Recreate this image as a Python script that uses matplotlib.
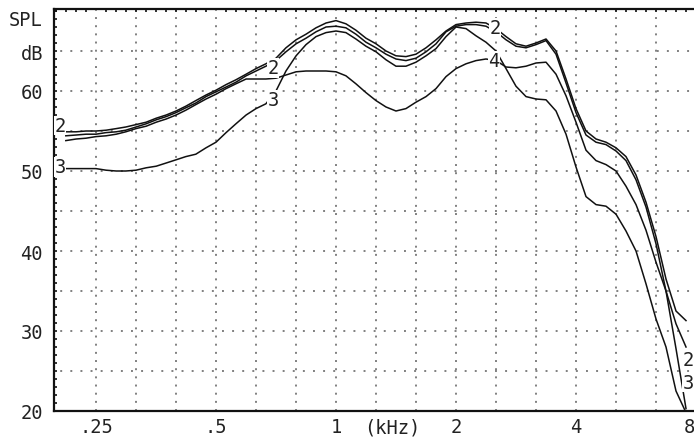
import numpy as np
import matplotlib
matplotlib.use("Agg")
import matplotlib.pyplot as plt

# ---------------- data ----------------
freq_hz = [210, 223, 236, 250, 265, 281, 297, 315, 334, 354, 375, 397, 420, 445, 472,
           500, 530, 561, 595, 630, 667, 707, 749, 794, 841, 891, 944, 1000, 1059, 1122,
           1189, 1260, 1335, 1414, 1498, 1587, 1682, 1782, 1888, 2000, 2119, 2245, 2378,
           2520, 2670, 2828, 2997, 3175, 3364, 3564, 3776, 4000, 4238, 4490, 4757, 5040,
           5339, 5657, 5993, 6350, 6727, 7127, 7551]

curve_a = [54.9, 54.9, 55.0, 55.0, 55.1, 55.3, 55.5, 55.8, 56.1, 56.6, 57.0, 57.5, 58.1, 58.8, 59.5,
           60.1, 60.8, 61.4, 62.1, 62.8, 63.4, 64.1, 65.4, 66.4, 67.1, 67.9, 68.5, 68.8, 68.4, 67.6,
           66.6, 65.9, 65.0, 64.4, 64.3, 64.6, 65.4, 66.4, 67.5, 68.3, 68.5, 68.6, 68.5,
           67.8, 66.8, 65.9, 65.6, 66.0, 66.5, 65.0, 61.5, 57.8, 55.0, 54.0, 53.6, 52.9,
           51.8, 49.5, 46.1, 41.8, 36.5, 32.5, 31.3]

curve_b = [54.4, 54.5, 54.6, 54.6, 54.8, 54.9, 55.1, 55.5, 55.9, 56.4, 56.8, 57.3, 57.9, 58.5, 59.3,
           59.9, 60.5, 61.1, 61.9, 62.5, 63.1, 63.8, 64.9, 65.9, 66.6, 67.4, 68.0, 68.1, 67.9, 67.1,
           66.1, 65.4, 64.6, 64.0, 63.8, 64.1, 64.9, 65.9, 67.4, 68.1, 68.3, 68.3, 68.1,
           67.4, 66.4, 65.6, 65.4, 65.8, 66.3, 64.6, 61.0, 57.3, 54.5, 53.6, 53.3, 52.5,
           51.3, 48.9, 45.5, 40.9, 35.0, 27.8, 20.3]

curve_4 = [53.8, 54.0, 54.1, 54.3, 54.4, 54.6, 54.9, 55.3, 55.6, 56.1, 56.5, 57.0, 57.6, 58.3, 59.0,
           59.6, 60.3, 60.9, 61.5, 61.5, 61.5, 61.6, 62.0, 62.4, 62.5, 62.5, 62.5, 62.4, 61.9, 60.9,
           59.8, 58.8, 58.0, 57.5, 57.8, 58.6, 59.3, 60.3, 61.8, 62.8, 63.4, 63.8, 64.0,
           63.8, 63.0, 62.9, 63.1, 63.5, 63.6, 62.1, 59.4, 56.1, 52.6, 51.3, 50.8, 50.0,
           48.1, 45.8, 42.6, 38.6, 35.0, 30.9, 28.0]

curve_3 = [50.3, 50.3, 50.3, 50.3, 50.1, 50.0, 50.0, 50.1, 50.4, 50.6, 51.0, 51.4, 51.8, 52.1, 52.9,
           53.6, 54.8, 55.9, 57.0, 57.8, 58.4, 60.0, 62.5, 64.4, 65.8, 66.8, 67.3, 67.5, 67.3, 66.5,
           65.6, 64.9, 63.9, 63.1, 63.1, 63.6, 64.4, 65.3, 66.8, 68.0, 67.8, 66.9, 66.1,
           65.0, 62.8, 60.6, 59.3, 59.0, 58.9, 57.5, 54.6, 50.5, 46.8, 45.8, 45.6, 44.6,
           42.5, 40.0, 35.9, 31.5, 28.0, 22.5, 19.8]

curves = [curve_a, curve_b, curve_4, curve_3]

# curve labels: (text, freq, dB)
label_text = ["2", "3", "2", "3", "2", "4", "2", "3"]
label_freq = [203, 203, 695, 695, 2505, 2490, 7650, 7650]
label_db = [55.7, 50.5, 62.9, 58.9, 67.9, 63.75, 26.4, 23.6]

x_tick_freq = [250, 500, 1000, 1380, 2000, 4000]
x_tick_text = [".25", ".5", "1", "(kHz)", "2", "4"]
y_tick_val = [20, 30, 40, 50, 60, 65]
y_tick_text = ["20", "30", "40", "50", "60", "dB"]

# ---------------- figure ----------------
FONT = "DejaVu Sans Mono"
FS = 13.5
TXT = "#222222"
XPAD = 4.5

fig = plt.figure(figsize=(6.94, 4.39), dpi=100)
W, H = 694, 439
ax_left, ax_right, ax_top, ax_bottom = 54, 694, 10, 412
ax = fig.add_axes([ax_left / W, (H - ax_bottom) / H,
                   (ax_right - ax_left) / W, (ax_bottom - ax_top) / H])

ax.set_xscale("log", base=2)
px_per_oct = 120.0
x1k = 336
ax.set_xlim(1000 * 2 ** ((ax_left - x1k) / px_per_oct),
            1000 * 2 ** ((ax_right - x1k) / px_per_oct))
ax.set_ylim(20, 70.25)

# grid (dotted)
grid_f = [1000 * 2 ** (k / 3) for k in range(-6, 9)]
for gf in grid_f:
    ax.axvline(gf, color="#808080", lw=1.4, linestyle=(0, (1, 3.2)), zorder=1)
for gy in range(25, 70, 5):
    ax.axhline(gy, color="#808080", lw=1.4, linestyle=(2, (1, 4.2)), zorder=1)

# curves
for c in curves:
    ax.plot(freq_hz, c, color="#111111", lw=1.1, zorder=3, solid_joinstyle="round")

# labels on curves
for t, f, d in zip(label_text, label_freq, label_db):
    ax.text(f, d, t, ha="center", va="center", fontsize=FS, family=FONT, color=TXT,
            zorder=4, bbox=dict(facecolor="white", edgecolor="none", pad=0.3))

# spines
for s in ["left", "top", "bottom"]:
    ax.spines[s].set_linewidth(1.6)
    ax.spines[s].set_color("#111111")
ax.spines["right"].set_visible(False)

# x ticks
ax.xaxis.set_major_locator(matplotlib.ticker.FixedLocator(x_tick_freq))
ax.set_xticklabels(x_tick_text)
top_ticks = [1000 * 2 ** (k / 12) for k in range(-28, 36)]
ax.xaxis.set_minor_locator(matplotlib.ticker.FixedLocator(top_ticks))
ax.xaxis.set_minor_formatter(matplotlib.ticker.NullFormatter())
ax.tick_params(axis="x", which="major", length=0, pad=XPAD, labelsize=FS, labelcolor=TXT)
ax.tick_params(axis="x", which="minor", bottom=False, top=True, direction="in",
               length=2.2, width=1.2, color="#111111")
for lab in ax.get_xticklabels():
    lab.set_family(FONT)

# y ticks
ax.yaxis.set_major_locator(matplotlib.ticker.FixedLocator(y_tick_val))
ax.set_yticklabels(y_tick_text)
ax.yaxis.set_minor_locator(matplotlib.ticker.MultipleLocator(1))
ax.tick_params(axis="y", which="both", direction="in", length=2.5, width=1.2,
               color="#111111", pad=8, labelsize=FS, labelcolor=TXT)
for lab in ax.get_yticklabels():
    lab.set_family(FONT)

# extra texts
ax.text(-11 / 640, 68.9, "SPL", transform=ax.get_yaxis_transform(), ha="right",
        va="center", fontsize=FS, family=FONT, color=TXT)
ax.annotate("8", xy=(0.992, 0), xycoords="axes fraction", xytext=(0, -XPAD),
            textcoords="offset points", ha="center", va="top", fontsize=FS,
            family=FONT, color=TXT)

fig.savefig("out.png", dpi=100)
